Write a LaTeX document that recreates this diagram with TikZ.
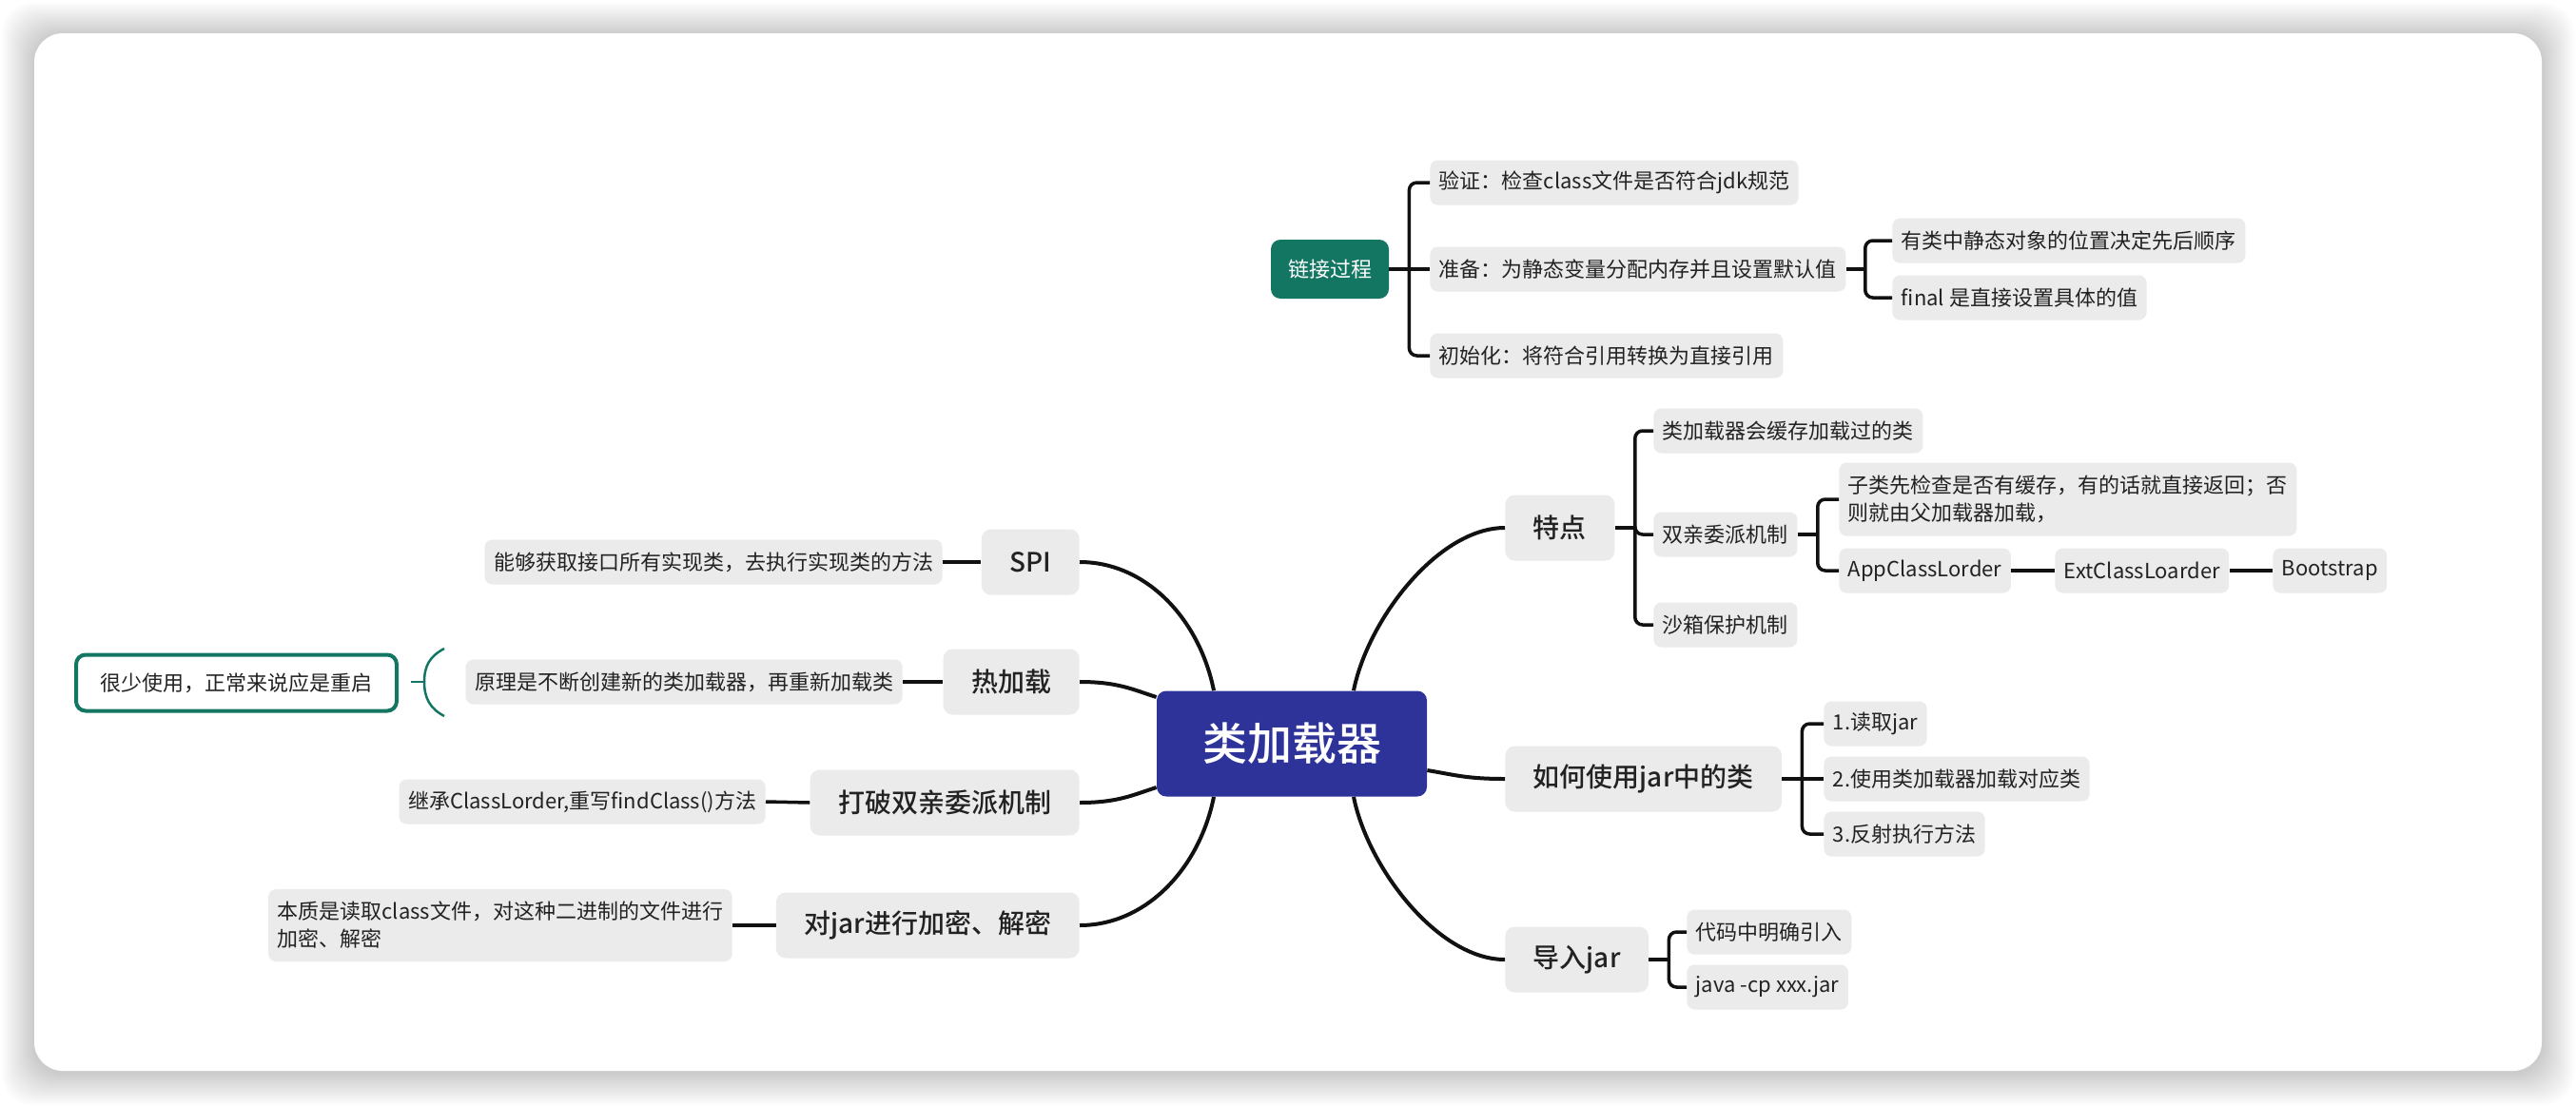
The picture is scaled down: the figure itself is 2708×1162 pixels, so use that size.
\documentclass[tikz,border=0pt]{standalone}
\usepackage{fontspec}
\setmainfont{Noto Sans CJK SC}
\newfontfamily\midfont{Noto Sans CJK SC Medium}
\usetikzlibrary{calc}
\definecolor{rootblue}{RGB}{45,51,153}
\definecolor{linkteal}{RGB}{18,118,98}
\definecolor{boxgray}{RGB}{235,235,235}
\definecolor{inkdark}{RGB}{34,34,34}
\definecolor{inkline}{RGB}{17,17,17}
\tikzset{every picture/.style={line width=0.75pt}}

\begin{document}
\begin{tikzpicture}[x=1pt,y=1pt,yscale=-1,xscale=1,
  rootbox/.style={fill=rootblue, rounded corners=10, text=white, font=\fontsize{47}{56}\selectfont\midfont, minimum width=284, minimum height=111, inner sep=0},
  topicbox/.style={fill=boxgray, rounded corners=10, text=inkdark, font=\fontsize{28}{34}\selectfont\midfont, minimum height=69, inner xsep=29.5, inner ysep=0},
  subbox/.style={fill=boxgray, rounded corners=8, text=inkdark, font=\fontsize{22}{29}\selectfont, minimum height=47, inner xsep=9.5, inner ysep=0, align=left},
  linkbox/.style={fill=linkteal, rounded corners=10, text=white, font=\fontsize{22}{29}\selectfont, minimum height=62, inner xsep=18, inner ysep=0},
  notebox/.style={draw=linkteal, line width=4, fill=white, rounded corners=10, text=inkdark, font=\fontsize{22}{29}\selectfont, minimum width=337, minimum height=59, inner sep=0},
  branch/.style={draw=inkline, line width=3.5, rounded corners=8},
  trunk/.style={draw=inkline, line width=4}]
\useasboundingbox (0,0) rectangle (2708,1162);

%Shape: Background and card
\fill[white] (0,0) rectangle (2708,1162);
\foreach \s in {2,4,...,34}
  \fill[black, opacity=0.01, rounded corners=32] (36-\s,35-\s+2) rectangle (2672+\s,1126+\s+2);
\fill[white, rounded corners=30] (36,35) rectangle (2672,1126);

% Root
\node[rootbox] (root) at (1358,782) {类加载器};

% Text Node: right topics
\node[topicbox, anchor=west] (tedian) at (1582,555) {特点};
\node[topicbox, anchor=west] (howuse) at (1582,819) {如何使用jar中的类};
\node[topicbox, anchor=west] (importjar) at (1582,1009) {导入jar};
% Text Node: left topics
\node[topicbox, anchor=east] (spi) at (1135,591) {SPI};
\node[topicbox, anchor=east] (hotload) at (1135,717) {热加载};
\node[topicbox, anchor=east] (breakdp) at (1135,844) {打破双亲委派机制};
\node[topicbox, anchor=east] (encjar) at (1135,973) {对jar进行加密、解密};

% Text Node: linking
\node[linkbox] (link) at (1398,283) {链接过程};
\node[subbox, anchor=west] (verify) at (1503,192) {验证：检查class文件是否符合jdk规范};
\node[subbox, anchor=west] (prepare) at (1503,283) {准备：为静态变量分配内存并且设置默认值};
\node[subbox, anchor=west] (init) at (1503,374) {初始化：将符合引用转换为直接引用};
\node[subbox, anchor=west] (order) at (1989,253) {有类中静态对象的位置决定先后顺序};
\node[subbox, anchor=west] (finalv) at (1989,313) {final 是直接设置具体的值};

% Text Node: features
\node[subbox, anchor=west] (cache) at (1738,453) {类加载器会缓存加载过的类};
\node[subbox, anchor=west] (parentdel) at (1738,562) {双亲委派机制};
\node[subbox, anchor=west] (sandbox) at (1738,657) {沙箱保护机制};
\node[subbox, anchor=west, minimum height=77] (childfirst) at (1933,525) {子类先检查是否有缓存，有的话就直接返回；否\\则就由父加载器加载，};
\node[subbox, anchor=west] (appcl) at (1933,600) {AppClassLorder};
\node[subbox, anchor=west] (extcl) at (2160,600) {ExtClassLoarder};
\node[subbox, anchor=west] (boot) at (2389,600) {Bootstrap};

% Text Node: jar
\node[subbox, anchor=west] (read1) at (1917,761) {1.读取jar};
\node[subbox, anchor=west] (load2) at (1917,819) {2.使用类加载器加载对应类};
\node[subbox, anchor=west] (reflect3) at (1917,877) {3.反射执行方法};
\node[subbox, anchor=west] (explicit) at (1773,980) {代码中明确引入};
\node[subbox, anchor=west] (cpjar) at (1773,1038) {java -cp xxx.jar};

% Text Node: left notes
\node[subbox, anchor=east] (spinote) at (991,591) {能够获取接口所有实现类，去执行实现类的方法};
\node[subbox, anchor=east] (hotnote) at (949,717) {原理是不断创建新的类加载器，再重新加载类};
\node[subbox, anchor=east] (breaknote) at (805,843) {继承ClassLorder,重写findClass()方法};
\node[subbox, anchor=east, minimum height=76] (encnote) at (770,973) {本质是读取class文件，对这种二进制的文件进行\\加密、解密};
\node[notebox, anchor=east] (rarely) at (419,718) {很少使用，正常来说应是重启};

%Curves from root
\draw[trunk] (spi.east) .. controls +(70,0) and +(-15,-75) .. ($(root.north)+(-82,0)$);
\draw[trunk] (hotload.east) .. controls +(40,0) and +(-25,-8) .. ($(root.west)+(0,-49)$);
\draw[trunk] (breakdp.east) .. controls +(40,0) and +(-25,8) .. ($(root.west)+(0,46)$);
\draw[trunk] (encjar.east) .. controls +(70,0) and +(-15,75) .. ($(root.south)+(-82,0)$);
\draw[trunk] (tedian.west) .. controls +(-70,0) and +(15,-75) .. ($(root.north)+(65,0)$);
\draw[trunk] (howuse.west) .. controls +(-40,0) and +(30,5) .. ($(root.east)+(0,28)$);
\draw[trunk] (importjar.west) .. controls +(-70,0) and +(15,75) .. ($(root.south)+(65,0)$);

%Straight Lines: brackets
\coordinate (lksp) at ($(link.east)+(21,0)$);
\draw[branch] (link.east) -- (lksp);
\draw[branch] (lksp) |- (verify.west);
\draw[branch] (lksp) -- (prepare.west);
\draw[branch] (lksp) |- (init.west);
\coordinate (prsp) at ($(prepare.east)+(20,0)$);
\draw[branch] (prepare.east) -- (prsp);
\draw[branch] (prsp) |- (order.west);
\draw[branch] (prsp) |- (finalv.west);
\coordinate (tdsp) at ($(tedian.east)+(21,0)$);
\draw[branch] (tedian.east) -- (tdsp);
\draw[branch] (tdsp) |- (cache.west);
\draw[branch] (tdsp) |- (parentdel.west);
\draw[branch] (tdsp) |- (sandbox.west);
\coordinate (pdsp) at ($(parentdel.east)+(21,0)$);
\draw[branch] (parentdel.east) -- (pdsp);
\draw[branch] (pdsp) |- (childfirst.west);
\draw[branch] (pdsp) |- (appcl.west);
\draw[branch] (appcl.east) -- (extcl.west);
\draw[branch] (extcl.east) -- (boot.west);
\coordinate (husp) at ($(howuse.east)+(21,0)$);
\draw[branch] (howuse.east) -- (husp);
\draw[branch] (husp) |- (read1.west);
\draw[branch] (husp) -- (load2.west);
\draw[branch] (husp) |- (reflect3.west);
\coordinate (ijsp) at ($(importjar.east)+(21,0)$);
\draw[branch] (importjar.east) -- (ijsp);
\draw[branch] (ijsp) |- (explicit.west);
\draw[branch] (ijsp) |- (cpjar.west);

%Straight Lines: left notes
\draw[branch] (spinote.east) -- (spi.west);
\draw[branch] (hotnote.east) -- (hotload.west);
\draw[branch] (breaknote.east) -- (breakdp.west);
\draw[branch] (encnote.east) -- (encjar.west);

%Summary brace
\coordinate (brtip) at (432,717);
\draw[linkteal, line width=2.5] (467,682) .. controls (452,690) and (446,700) .. (446,717) .. controls (446,734) and (452,745) .. (467,753);
\draw[linkteal, line width=2.5] (446,717) -- (brtip);

\end{tikzpicture}
\end{document}
